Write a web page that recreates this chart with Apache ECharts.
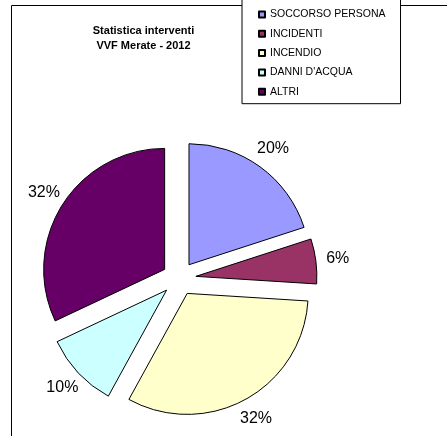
<!DOCTYPE html>
<html>
<head>
<meta charset="utf-8">
<script src="https://cdn.jsdelivr.net/npm/echarts@6/dist/echarts.min.js"></script>
<style>
html,body{margin:0;padding:0;background:#fff;}
#chart{width:447px;height:436px;}
</style>
</head>
<body>
<div id="chart"></div>
<script>
var categories = ['SOCCORSO PERSONA', 'INCIDENTI', 'INCENDIO', "DANNI D'ACQUA", 'ALTRI'];
var values = [20, 6, 32, 10, 32];
var colors = ['#9999FF', '#993366', '#FFFFCC', '#CCFFFF', '#660066'];
var titleLines = ['Statistica interventi', 'VVF Merate - 2012'];

var FONT = '"Liberation Sans", Arial, sans-serif';
var chart = echarts.init(document.getElementById('chart'), null, {renderer: 'canvas'});

var pieData = categories.map(function (name, i) {
  return {name: name, value: values[i], selected: true, itemStyle: {color: colors[i]}};
});
var labelData = categories.map(function (name, i) {
  return {name: name, value: values[i], selected: true};
});

chart.setOption({
  animation: false,
  backgroundColor: '#fff',
  title: {
    text: titleLines.join('\n'),
    left: 143.5,
    top: 23,
    padding: 0,
    textAlign: 'center',
    textStyle: {fontFamily: FONT, fontSize: 11, fontWeight: 'bold', color: '#000', lineHeight: 15}
  },
  graphic: [{
    type: 'rect',
    z: 0,
    shape: {x: 11.5, y: 5.5, width: 1000, height: 1000},
    style: {fill: 'none', stroke: '#000', lineWidth: 1}
  }],
  legend: {
    orient: 'vertical',
    left: 242,
    top: -5.5,
    padding: [14, 15, 6, 16],
    itemWidth: 6,
    itemHeight: 6,
    itemGap: 7.3,
    icon: 'rect',
    backgroundColor: '#fff',
    borderColor: '#000',
    borderWidth: 1,
    z: 10,
    selectedMode: false,
    data: categories,
    textStyle: {fontFamily: FONT, fontSize: 10.5, color: '#000', lineHeight: 12}
  },
  series: [{
    type: 'pie',
    name: 'main',
    center: [179, 278.5],
    radius: 121,
    startAngle: 90,
    clockwise: true,
    selectedMode: 'multiple',
    selectedOffset: 17,
    avoidLabelOverlap: false,
    label: {show: false},
    labelLine: {show: false},
    itemStyle: {borderColor: '#000', borderWidth: 1},
    emphasis: {disabled: true},
    data: pieData
  }, {
    type: 'pie',
    name: 'labels',
    silent: true,
    center: [179, 278.5],
    radius: [135, 145],
    startAngle: 90,
    clockwise: true,
    selectedMode: 'multiple',
    selectedOffset: 17,
    avoidLabelOverlap: false,
    itemStyle: {color: 'rgba(0,0,0,0)', borderWidth: 0},
    label: {
      show: true,
      position: 'inside',
      formatter: '{d}%',
      fontFamily: FONT,
      fontSize: 16,
      color: '#000'
    },
    labelLine: {show: false},
    emphasis: {disabled: true},
    data: labelData
  }]
});
</script>
</body>
</html>
